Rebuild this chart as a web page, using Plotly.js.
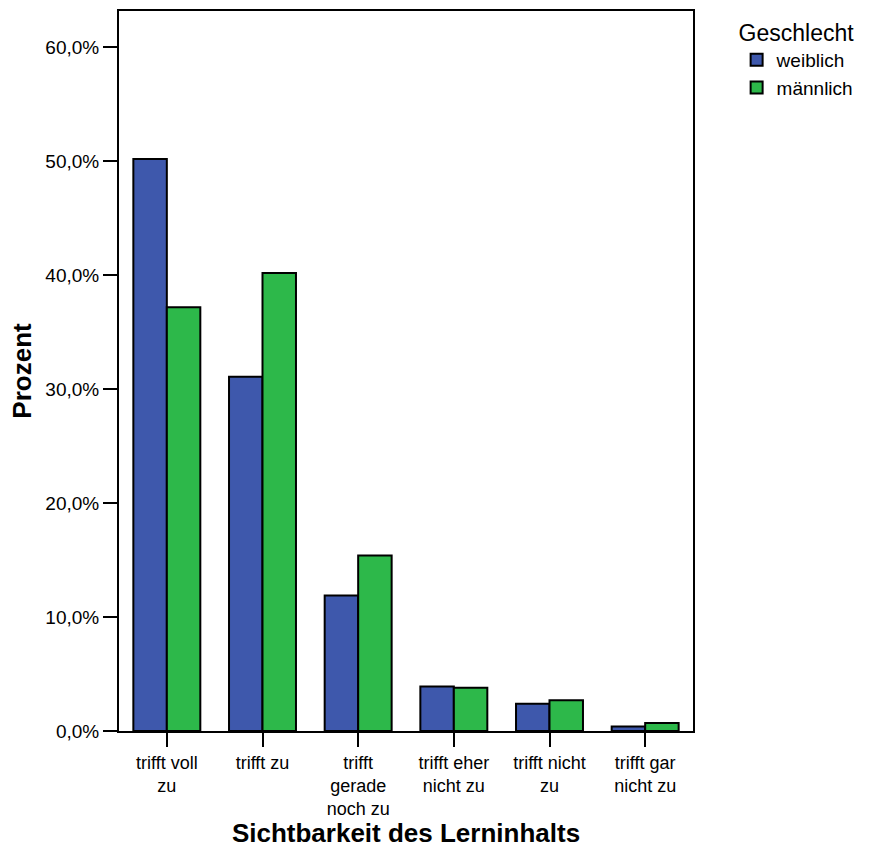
<!DOCTYPE html>
<html><head><meta charset="utf-8">
<script src="https://cdn.plot.ly/plotly-3.0.1.min.js"></script>
<style>body{margin:0;background:#fff}#chart{width:870px;height:848px}</style>
</head><body><div id="chart"></div>
<script>
const categories = ["trifft voll<br>zu", "trifft zu", "trifft<br>gerade<br>noch zu", "trifft eher<br>nicht zu", "trifft nicht<br>zu", "trifft gar<br>nicht zu"];
const weiblich = [50.2, 31.1, 11.9, 3.9, 2.4, 0.4];
const maennlich = [37.2, 40.2, 15.4, 3.8, 2.7, 0.7];
const seriesNames = ["weiblich", "männlich"];
const yTickVals = [0, 10, 20, 30, 40, 50, 60];
const yTickText = ["0,0%", "10,0%", "20,0%", "30,0%", "40,0%", "50,0%", "60,0%"];

const font = "Liberation Sans, Arial, sans-serif";
const traces = [
  {type: "bar", name: seriesNames[0], x: categories, y: weiblich,
   marker: {color: "#3E58AC", line: {color: "#000", width: 2}}},
  {type: "bar", name: seriesNames[1], x: categories, y: maennlich,
   marker: {color: "#2DB84A", line: {color: "#000", width: 2}}}
];
const layout = {
  width: 870, height: 848,
  margin: {l: 119, r: 177, t: 11, b: 117},
  barmode: "group", bargap: 0.3, bargroupgap: 0,
  paper_bgcolor: "#fff", plot_bgcolor: "#fff",
  font: {family: font, color: "#000", size: 17},
  showlegend: true,
  xaxis: {
    type: "category", showline: true, mirror: true, linecolor: "#000", linewidth: 2,
    ticks: "outside", ticklen: 14, tickwidth: 2, tickcolor: "#000",
    tickfont: {family: font, size: 18, color: "#000"},
    title: {text: "Sichtbarkeit des Lerninhalts", font: {family: font, size: 26, color: "#000", weight: "bold"}, standoff: 6},
    showgrid: false, zeroline: false
  },
  yaxis: {
    range: [0, 63.2], tickmode: "array", tickvals: yTickVals, ticktext: yTickText,
    showline: true, mirror: true, linecolor: "#000", linewidth: 2,
    ticks: "outside", ticklen: 14, tickwidth: 2, tickcolor: "#000",
    tickfont: {family: font, size: 19, color: "#000"},
    title: {text: "Prozent", font: {family: font, size: 26, color: "#000", weight: "bold"}, standoff: 6},
    showgrid: false, zeroline: false
  },
  legend: {
    x: 1.076, xanchor: "left", y: 1.0, yanchor: "top",
    title: {text: "Geschlecht", font: {family: font, size: 23, color: "#000"}},
    font: {family: font, size: 19, color: "#000"},
    bgcolor: "rgba(0,0,0,0)", tracegroupgap: 0
  }
};
Plotly.newPlot("chart", traces, layout, {displayModeBar: false, staticPlot: true});
</script></body></html>
